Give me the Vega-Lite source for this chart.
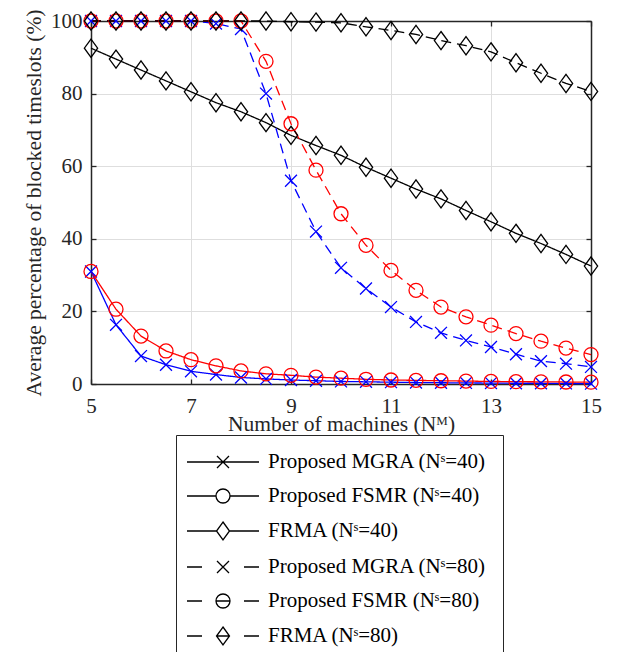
{
  "$schema": "https://vega.github.io/schema/vega-lite/v6.json",
  "width": 500,
  "height": 363,
  "padding": {"left": 23, "top": 8, "right": 20, "bottom": 0},
  "background": "white",
  "config": {"view": {"stroke": null}, "legend": {"labelFont": "Liberation Serif", "labelFontSize": 21, "labelColor": "#000000", "labelLimit": 600}},
  "data": {"values": [
    {"n":5,"s":"Proposed MGRA (Nˢ=40)","v":31},{"n":5.5,"s":"Proposed MGRA (Nˢ=40)","v":16.3},{"n":6,"s":"Proposed MGRA (Nˢ=40)","v":7.7},{"n":6.5,"s":"Proposed MGRA (Nˢ=40)","v":5.3},{"n":7,"s":"Proposed MGRA (Nˢ=40)","v":3.5},{"n":7.5,"s":"Proposed MGRA (Nˢ=40)","v":2.6},{"n":8,"s":"Proposed MGRA (Nˢ=40)","v":1.8},{"n":8.5,"s":"Proposed MGRA (Nˢ=40)","v":1.4},{"n":9,"s":"Proposed MGRA (Nˢ=40)","v":1.1},{"n":9.5,"s":"Proposed MGRA (Nˢ=40)","v":0.9},{"n":10,"s":"Proposed MGRA (Nˢ=40)","v":0.7},{"n":10.5,"s":"Proposed MGRA (Nˢ=40)","v":0.6},{"n":11,"s":"Proposed MGRA (Nˢ=40)","v":0.5},{"n":11.5,"s":"Proposed MGRA (Nˢ=40)","v":0.4},{"n":12,"s":"Proposed MGRA (Nˢ=40)","v":0.35},{"n":12.5,"s":"Proposed MGRA (Nˢ=40)","v":0.3},{"n":13,"s":"Proposed MGRA (Nˢ=40)","v":0.25},{"n":13.5,"s":"Proposed MGRA (Nˢ=40)","v":0.2},{"n":14,"s":"Proposed MGRA (Nˢ=40)","v":0.2},{"n":14.5,"s":"Proposed MGRA (Nˢ=40)","v":0.15},{"n":15,"s":"Proposed MGRA (Nˢ=40)","v":0.1},
    {"n":5,"s":"Proposed FSMR (Nˢ=40)","v":31},{"n":5.5,"s":"Proposed FSMR (Nˢ=40)","v":20.6},{"n":6,"s":"Proposed FSMR (Nˢ=40)","v":13.2},{"n":6.5,"s":"Proposed FSMR (Nˢ=40)","v":9.1},{"n":7,"s":"Proposed FSMR (Nˢ=40)","v":6.7},{"n":7.5,"s":"Proposed FSMR (Nˢ=40)","v":5.0},{"n":8,"s":"Proposed FSMR (Nˢ=40)","v":3.6},{"n":8.5,"s":"Proposed FSMR (Nˢ=40)","v":2.8},{"n":9,"s":"Proposed FSMR (Nˢ=40)","v":2.4},{"n":9.5,"s":"Proposed FSMR (Nˢ=40)","v":1.9},{"n":10,"s":"Proposed FSMR (Nˢ=40)","v":1.6},{"n":10.5,"s":"Proposed FSMR (Nˢ=40)","v":1.3},{"n":11,"s":"Proposed FSMR (Nˢ=40)","v":1.1},{"n":11.5,"s":"Proposed FSMR (Nˢ=40)","v":1.0},{"n":12,"s":"Proposed FSMR (Nˢ=40)","v":0.9},{"n":12.5,"s":"Proposed FSMR (Nˢ=40)","v":0.8},{"n":13,"s":"Proposed FSMR (Nˢ=40)","v":0.7},{"n":13.5,"s":"Proposed FSMR (Nˢ=40)","v":0.65},{"n":14,"s":"Proposed FSMR (Nˢ=40)","v":0.6},{"n":14.5,"s":"Proposed FSMR (Nˢ=40)","v":0.55},{"n":15,"s":"Proposed FSMR (Nˢ=40)","v":0.5},
    {"n":5,"s":"FRMA (Nˢ=40)","v":92.5},{"n":5.5,"s":"FRMA (Nˢ=40)","v":89.5},{"n":6,"s":"FRMA (Nˢ=40)","v":86.5},{"n":6.5,"s":"FRMA (Nˢ=40)","v":83.5},{"n":7,"s":"FRMA (Nˢ=40)","v":80.5},{"n":7.5,"s":"FRMA (Nˢ=40)","v":77.5},{"n":8,"s":"FRMA (Nˢ=40)","v":75},{"n":8.5,"s":"FRMA (Nˢ=40)","v":72},{"n":9,"s":"FRMA (Nˢ=40)","v":68.5},{"n":9.5,"s":"FRMA (Nˢ=40)","v":65.7},{"n":10,"s":"FRMA (Nˢ=40)","v":63},{"n":10.5,"s":"FRMA (Nˢ=40)","v":59.7},{"n":11,"s":"FRMA (Nˢ=40)","v":56.7},{"n":11.5,"s":"FRMA (Nˢ=40)","v":53.7},{"n":12,"s":"FRMA (Nˢ=40)","v":51},{"n":12.5,"s":"FRMA (Nˢ=40)","v":47.8},{"n":13,"s":"FRMA (Nˢ=40)","v":44.7},{"n":13.5,"s":"FRMA (Nˢ=40)","v":41.5},{"n":14,"s":"FRMA (Nˢ=40)","v":38.7},{"n":14.5,"s":"FRMA (Nˢ=40)","v":35.7},{"n":15,"s":"FRMA (Nˢ=40)","v":32.5},
    {"n":5,"s":"Proposed MGRA (Nˢ=80)","v":100},{"n":5.5,"s":"Proposed MGRA (Nˢ=80)","v":100},{"n":6,"s":"Proposed MGRA (Nˢ=80)","v":100},{"n":6.5,"s":"Proposed MGRA (Nˢ=80)","v":100},{"n":7,"s":"Proposed MGRA (Nˢ=80)","v":100},{"n":7.5,"s":"Proposed MGRA (Nˢ=80)","v":99.3},{"n":8,"s":"Proposed MGRA (Nˢ=80)","v":97.8},{"n":8.5,"s":"Proposed MGRA (Nˢ=80)","v":80},{"n":9,"s":"Proposed MGRA (Nˢ=80)","v":56},{"n":9.5,"s":"Proposed MGRA (Nˢ=80)","v":42},{"n":10,"s":"Proposed MGRA (Nˢ=80)","v":32},{"n":10.5,"s":"Proposed MGRA (Nˢ=80)","v":26.3},{"n":11,"s":"Proposed MGRA (Nˢ=80)","v":21.2},{"n":11.5,"s":"Proposed MGRA (Nˢ=80)","v":17.1},{"n":12,"s":"Proposed MGRA (Nˢ=80)","v":14.1},{"n":12.5,"s":"Proposed MGRA (Nˢ=80)","v":12},{"n":13,"s":"Proposed MGRA (Nˢ=80)","v":10.2},{"n":13.5,"s":"Proposed MGRA (Nˢ=80)","v":8.2},{"n":14,"s":"Proposed MGRA (Nˢ=80)","v":6.3},{"n":14.5,"s":"Proposed MGRA (Nˢ=80)","v":5.6},{"n":15,"s":"Proposed MGRA (Nˢ=80)","v":4.7},
    {"n":5,"s":"Proposed FSMR (Nˢ=80)","v":100},{"n":5.5,"s":"Proposed FSMR (Nˢ=80)","v":100},{"n":6,"s":"Proposed FSMR (Nˢ=80)","v":100},{"n":6.5,"s":"Proposed FSMR (Nˢ=80)","v":100},{"n":7,"s":"Proposed FSMR (Nˢ=80)","v":100},{"n":7.5,"s":"Proposed FSMR (Nˢ=80)","v":100},{"n":8,"s":"Proposed FSMR (Nˢ=80)","v":100},{"n":8.5,"s":"Proposed FSMR (Nˢ=80)","v":88.9},{"n":9,"s":"Proposed FSMR (Nˢ=80)","v":71.7},{"n":9.5,"s":"Proposed FSMR (Nˢ=80)","v":58.9},{"n":10,"s":"Proposed FSMR (Nˢ=80)","v":46.9},{"n":10.5,"s":"Proposed FSMR (Nˢ=80)","v":38.2},{"n":11,"s":"Proposed FSMR (Nˢ=80)","v":31.3},{"n":11.5,"s":"Proposed FSMR (Nˢ=80)","v":25.8},{"n":12,"s":"Proposed FSMR (Nˢ=80)","v":21.2},{"n":12.5,"s":"Proposed FSMR (Nˢ=80)","v":18.5},{"n":13,"s":"Proposed FSMR (Nˢ=80)","v":16.2},{"n":13.5,"s":"Proposed FSMR (Nˢ=80)","v":13.9},{"n":14,"s":"Proposed FSMR (Nˢ=80)","v":11.8},{"n":14.5,"s":"Proposed FSMR (Nˢ=80)","v":9.9},{"n":15,"s":"Proposed FSMR (Nˢ=80)","v":8.1},
    {"n":5,"s":"FRMA (Nˢ=80)","v":100},{"n":5.5,"s":"FRMA (Nˢ=80)","v":100},{"n":6,"s":"FRMA (Nˢ=80)","v":100},{"n":6.5,"s":"FRMA (Nˢ=80)","v":100},{"n":7,"s":"FRMA (Nˢ=80)","v":100},{"n":7.5,"s":"FRMA (Nˢ=80)","v":100},{"n":8,"s":"FRMA (Nˢ=80)","v":100},{"n":8.5,"s":"FRMA (Nˢ=80)","v":100},{"n":9,"s":"FRMA (Nˢ=80)","v":99.8},{"n":9.5,"s":"FRMA (Nˢ=80)","v":99.7},{"n":10,"s":"FRMA (Nˢ=80)","v":99.5},{"n":10.5,"s":"FRMA (Nˢ=80)","v":98.4},{"n":11,"s":"FRMA (Nˢ=80)","v":97.4},{"n":11.5,"s":"FRMA (Nˢ=80)","v":96.3},{"n":12,"s":"FRMA (Nˢ=80)","v":94.6},{"n":12.5,"s":"FRMA (Nˢ=80)","v":93.2},{"n":13,"s":"FRMA (Nˢ=80)","v":91.5},{"n":13.5,"s":"FRMA (Nˢ=80)","v":88.5},{"n":14,"s":"FRMA (Nˢ=80)","v":85.6},{"n":14.5,"s":"FRMA (Nˢ=80)","v":82.8},{"n":15,"s":"FRMA (Nˢ=80)","v":80.6}
  ]},
  "layer": [
    {
      "mark": {"type": "line", "strokeWidth": 1.3},
      "encoding": {
        "x": {"field": "n", "type": "quantitative", "scale": {"domain": [5, 15], "nice": false, "zero": false},
          "axis": {"orient": "bottom", "values": [5,7,9,11,13,15], "title": "Number of machines (Nᴹ)",
            "grid": true, "gridColor": "#dedede", "gridWidth": 1, "labelFlush": false, "labelOverlap": false,
            "domainColor": "#262626", "domainWidth": 1.5, "tickColor": "#262626", "tickSize": -5, "tickWidth": 1.3,
            "labelFont": "Liberation Serif", "labelFontSize": 21, "labelColor": "#262626", "labelPadding": 16,
            "titleFont": "Liberation Serif", "titleFontSize": 21.5, "titleFontWeight": "normal", "titleColor": "#262626", "titlePadding": -3}},
        "y": {"field": "v", "type": "quantitative", "scale": {"domain": [0, 100], "nice": false},
          "axis": {"orient": "left", "values": [0,20,40,60,80,100], "title": "Average percentage of blocked timeslots (%)",
            "grid": true, "gridColor": "#dedede", "gridWidth": 1, "labelFlush": false, "labelOverlap": false,
            "domainColor": "#262626", "domainWidth": 1.5, "tickColor": "#262626", "tickSize": -5, "tickWidth": 1.3,
            "labelFont": "Liberation Serif", "labelFontSize": 21, "labelColor": "#262626", "labelPadding": 14,
            "titleFont": "Liberation Serif", "titleFontSize": 21.5, "titleFontWeight": "normal", "titleColor": "#262626", "titlePadding": 5}},
        "color": {"field": "s", "type": "nominal", "legend": null,
          "scale": {"domain": ["Proposed MGRA (Nˢ=40)","Proposed FSMR (Nˢ=40)","FRMA (Nˢ=40)","Proposed MGRA (Nˢ=80)","Proposed FSMR (Nˢ=80)","FRMA (Nˢ=80)"],
            "range": ["#0000ff","#ff0000","#000000","#0000ff","#ff0000","#000000"]}},
        "strokeDash": {"field": "s", "type": "nominal", "legend": null,
          "scale": {"domain": ["Proposed MGRA (Nˢ=40)","Proposed FSMR (Nˢ=40)","FRMA (Nˢ=40)","Proposed MGRA (Nˢ=80)","Proposed FSMR (Nˢ=80)","FRMA (Nˢ=80)"],
            "range": [[1,0],[1,0],[1,0],[10,6],[10,6],[10,6]]}}
      }
    },
    {
      "mark": {"type": "point", "filled": false, "size": 196, "strokeWidth": 1.3, "opacity": 1},
      "encoding": {
        "x": {"field": "n", "type": "quantitative", "scale": {"domain": [5, 15], "nice": false, "zero": false},
          "axis": {"orient": "top", "values": [5,7,9,11,13,15], "title": null, "labels": false, "grid": false,
            "domainColor": "#262626", "domainWidth": 1.5, "tickColor": "#262626", "tickSize": -5, "tickWidth": 1.3}},
        "y": {"field": "v", "type": "quantitative", "scale": {"domain": [0, 100], "nice": false},
          "axis": {"orient": "right", "values": [0,20,40,60,80,100], "title": null, "labels": false, "grid": false,
            "domainColor": "#262626", "domainWidth": 1.5, "tickColor": "#262626", "tickSize": -5, "tickWidth": 1.3}},
        "color": {"field": "s", "type": "nominal", "legend": null},
        "shape": {"field": "s", "type": "nominal", "legend": null,
          "scale": {"domain": ["Proposed MGRA (Nˢ=40)","Proposed FSMR (Nˢ=40)","FRMA (Nˢ=40)","Proposed MGRA (Nˢ=80)","Proposed FSMR (Nˢ=80)","FRMA (Nˢ=80)"],
            "range": ["M-0.85,-0.85L0.85,0.85M-0.85,0.85L0.85,-0.85","circle","M0,-1.3L0.95,0L0,1.3L-0.95,0Z","M-0.85,-0.85L0.85,0.85M-0.85,0.85L0.85,-0.85","circle","M0,-1.3L0.95,0L0,1.3L-0.95,0Z"]}}
      }
    },
    {
      "transform": [{"filter": "datum.n < 0"}],
      "mark": {"type": "point", "filled": false, "strokeWidth": 1.3, "opacity": 1},
      "encoding": {
        "stroke": {"field": "s", "type": "nominal",
          "scale": {"domain": ["Proposed MGRA (Nˢ=40)","Proposed FSMR (Nˢ=40)","FRMA (Nˢ=40)","Proposed MGRA (Nˢ=80)","Proposed FSMR (Nˢ=80)","FRMA (Nˢ=80)"],
            "range": ["#0000ff","#ff0000","#000000","#0000ff","#ff0000","#000000"]},
          "legend": {
            "orient": "none", "legendX": 85, "legendY": 414, "direction": "vertical", "title": null,
            "labelFont": "Liberation Serif", "labelFontSize": 21, "labelColor": "#000000", "labelLimit": 600,
            "labelOffset": 54, "symbolSize": 400, "symbolStrokeWidth": 1.3, "rowPadding": 13,
            "padding": 16, "strokeColor": "#262626", "fillColor": "#ffffff", "cornerRadius": 0}},
        "shape": {"field": "s", "type": "nominal",
          "scale": {"domain": ["Proposed MGRA (Nˢ=40)","Proposed FSMR (Nˢ=40)","FRMA (Nˢ=40)","Proposed MGRA (Nˢ=80)","Proposed FSMR (Nˢ=80)","FRMA (Nˢ=80)"],
            "range": ["M-1.6,0H5.6M1.4,-0.6L2.6,0.6M1.4,0.6L2.6,-0.6","M-1.6,0H1.3M2.7,0H5.6M2.7,0A0.7,0.7,0,1,1,1.3,0A0.7,0.7,0,1,1,2.7,0","M-1.6,0H1.35M2.65,0H5.6M2,-0.9L2.65,0L2,0.9L1.35,0Z","M-1.6,0H-0.1M4.1,0H5.6M1.4,-0.6L2.6,0.6M1.4,0.6L2.6,-0.6","M-1.6,0H-0.1M4.1,0H5.6M1.3,0H2.7M2.7,0A0.7,0.7,0,1,1,1.3,0A0.7,0.7,0,1,1,2.7,0","M-1.6,0H-0.1M4.1,0H5.6M1.35,0H2.65M2,-0.9L2.65,0L2,0.9L1.35,0Z"]},
          "legend": {
            "orient": "none", "legendX": 85, "legendY": 414, "direction": "vertical", "title": null,
            "labelFont": "Liberation Serif", "labelFontSize": 21, "labelColor": "#000000", "labelLimit": 600,
            "labelOffset": 54, "symbolSize": 400, "symbolStrokeWidth": 1.3, "symbolStrokeColor": "#000000", "rowPadding": 13,
            "padding": 16, "strokeColor": "#262626", "fillColor": "#ffffff", "cornerRadius": 0}}
      }
    }
  ],
  "resolve": {"axis": {"x": "independent", "y": "independent"}, "scale": {"shape": "independent"}}
}
